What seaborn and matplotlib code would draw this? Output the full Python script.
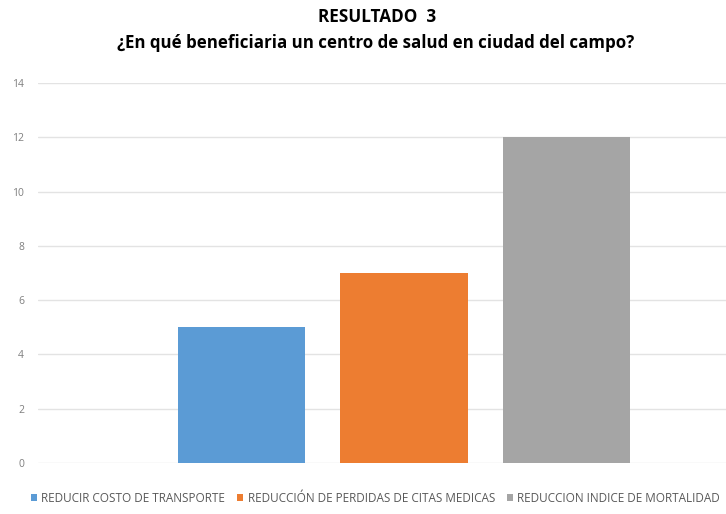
import matplotlib
matplotlib.use("Agg")
import matplotlib.pyplot as plt
import seaborn as sns
import pandas as pd

# Survey answers: one group, three options
grupo = ["Resultado 3"]
opciones = [
    "REDUCIR COSTO DE TRANSPORTE",
    "REDUCCIÓN DE PERDIDAS DE CITAS MEDICAS",
    "REDUCCION INDICE DE MORTALIDAD",
]
valores = [5, 7, 12]
colores = ["#5b9bd5", "#ed7d31", "#a5a5a5"]
y_ticks = [0, 2, 4, 6, 8, 10, 12, 14]

df = pd.DataFrame({
    "grupo": grupo * len(opciones),
    "opcion": opciones,
    "valor": valores,
})

sns.set_theme(style="white")
plt.rcParams["font.family"] = ["Open Sans", "DejaVu Sans"]

fig = plt.figure(figsize=(7.26, 5.14), dpi=100)
ax = fig.add_axes([38 / 726, 51 / 514, 732 / 726, 380 / 514])

sns.barplot(
    data=df, x="grupo", y="valor", hue="opcion",
    hue_order=opciones, palette=colores,
    width=0.664, gap=0.216, ax=ax, legend=True,
    saturation=1, edgecolor="none",
)

ax.set_ylim(0, 14)
ax.set_xlim(-0.5, 0.5)
ax.set_yticks(y_ticks)
ax.set_yticklabels([str(t) for t in y_ticks], fontsize=7.5, color="#7f7f7f")
ax.tick_params(axis="y", length=0, pad=10)
ax.set_xticks([])
ax.set_xlabel("")
ax.set_ylabel("")
ax.yaxis.grid(True, color="#e3e3e3", linewidth=1.0)
ax.set_axisbelow(True)
for s in ax.spines.values():
    s.set_visible(False)

handles, labels = ax.get_legend_handles_labels()
ax.get_legend().remove()
fig.legend(
    handles, labels, loc="center left", bbox_to_anchor=(20 / 726, 1 - 498 / 514),
    ncol=3, frameon=False, fontsize=8.5, handlelength=0.55, handleheight=0.55,
    handletextpad=0.35, columnspacing=1.0, labelcolor="#595959",
)

fig.text(377 / 726, 1 - 17 / 514, "RESULTADO  3", ha="center", va="center",
         fontsize=12.3, fontweight="bold", color="#000000")
fig.text(376 / 726, 1 - 43 / 514,
         "¿En qué beneficiaria un centro de salud en ciudad del campo?",
         ha="center", va="center", fontsize=12.2, fontweight="bold",
         color="#000000")

fig.savefig("out.png", dpi=100, facecolor="white")
